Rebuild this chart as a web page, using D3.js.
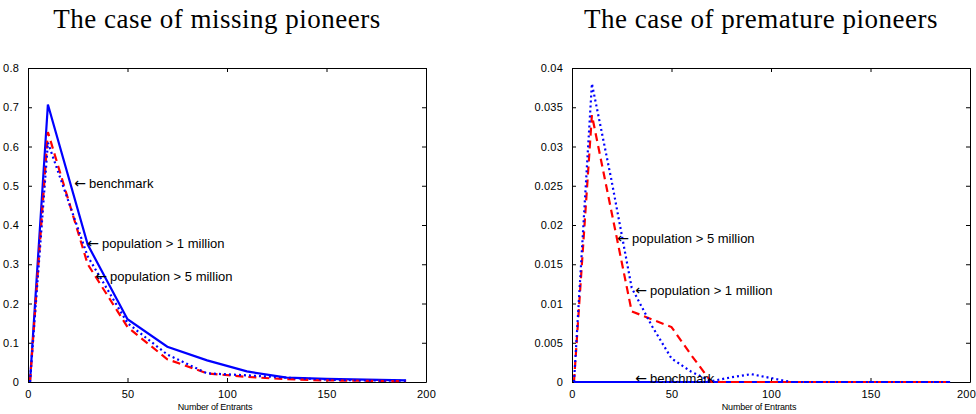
<!DOCTYPE html>
<html>
<head>
<meta charset="utf-8">
<title>Missing and premature pioneers</title>
<script src="https://d3js.org/d3.v7.min.js"></script>
<style>
  body { margin: 0; background: #fff; }
  .tick-label { font: 11px "Liberation Sans", Arial, sans-serif; fill: #000; letter-spacing: 0.2px; }
  .note { font: 13px "Liberation Sans", Arial, sans-serif; fill: #000; }
  .arrow { font: 14px "DejaVu Sans", sans-serif; }
  .xlabel { font: 9px "Liberation Sans", Arial, sans-serif; fill: #000; letter-spacing: -0.2px; }
  .title { font: 27px "Liberation Serif", "DejaVu Serif", serif; fill: #000; letter-spacing: 0.5px; }
</style>
</head>
<body>
<div id="chart"></div>
<script>
// ---- data ----
// left panel: the case of missing pioneers
var leftX         = [1, 10, 30, 50, 70, 90, 110, 130, 150, 170, 190];
var leftBenchmark = [0, 0.707, 0.35, 0.16, 0.09, 0.055, 0.027, 0.011, 0.008, 0.006, 0.004];
var leftPop1m     = [0, 0.61, 0.32, 0.15, 0.07, 0.022, 0.017, 0.011, 0.006, 0.004, 0.003];
var leftPop5m     = [0, 0.637, 0.30, 0.14, 0.058, 0.022, 0.013, 0.007, 0.004, 0.003, 0.002];
var leftYTicks    = [0, 0.1, 0.2, 0.3, 0.4, 0.5, 0.6, 0.7, 0.8];

// right panel: the case of premature pioneers
var rightX         = [1, 10, 20, 30, 40, 50, 60, 70, 80, 90, 100, 110, 120, 130, 140, 150, 160, 170, 180, 190];
var rightBenchmark = [0, 0, 0, 0, 0, 0, 0, 0, 0, 0, 0, 0, 0, 0, 0, 0, 0, 0, 0, 0];
var rightPop1m     = [0, 0.038, 0.0255, 0.012, 0.0072, 0.003, 0.0013, 0.0001, 0.0006, 0.001, 0.0005, 0, 0, 0, 0, 0, 0, 0, 0, 0];
var rightPop5m     = [0, 0.034, 0.0215, 0.009, 0.008, 0.007, 0.0034, 0, 0, 0, 0, 0, 0, 0, 0, 0, 0, 0, 0, 0];
var rightYTicks    = [0, 0.005, 0.01, 0.015, 0.02, 0.025, 0.03, 0.035, 0.04];

var xTicks = [0, 50, 100, 150, 200];

var panels = [
  {
    title: "The case of missing pioneers",
    left: 28, yMax: 0.8, yTicks: leftYTicks, x: leftX,
    benchmark: leftBenchmark, pop1m: leftPop1m, pop5m: leftPop5m,
    notes: [
      {text: "benchmark", x: 23.3, y: 0.505},
      {text: "population > 1 million", x: 29.8, y: 0.352},
      {text: "population > 5 million", x: 33.8, y: 0.27}
    ]
  },
  {
    title: "The case of premature pioneers",
    left: 572, yMax: 0.04, yTicks: rightYTicks, x: rightX,
    benchmark: rightBenchmark, pop1m: rightPop1m, pop5m: rightPop5m,
    notes: [
      {text: "population > 5 million", x: 22.8, y: 0.0183},
      {text: "population > 1 million", x: 31.8, y: 0.0116},
      {text: "benchmark", x: 31.8, y: 0.0005}
    ]
  }
];

var W = 976, H = 414;
var plotW = 398, plotTop = 68, plotBottom = 382, tickLen = 4;

var svg = d3.select("#chart").append("svg")
    .attr("width", W)
    .attr("height", H);

panels.forEach(function(p, pi) {
  var xScale = d3.scaleLinear().domain([0, 200]).range([p.left, p.left + plotW]);
  var yScale = d3.scaleLinear().domain([0, p.yMax]).range([plotBottom, plotTop]);
  var g = svg.append("g");

  // title
  g.append("text")
    .attr("class", "title")
    .attr("x", p.left + plotW / 2 - 10)
    .attr("y", 28)
    .attr("text-anchor", "middle")
    .text(p.title);

  // axes, matlab style: ticks inside, on all four sides
  var fmt = function(d) { return d3.format("~g")(d); };

  var bottomAxis = d3.axisBottom(xScale).tickValues(xTicks).tickSizeInner(-tickLen).tickSizeOuter(0).tickPadding(8);
  var bx = g.append("g").attr("transform", "translate(0," + plotBottom + ")").call(bottomAxis);
  // keep the last label of the right panel inside the window
  if (pi === 1) {
    bx.selectAll(".tick text").filter(function(d) { return d === 200; }).attr("dx", -4);
  }

  var topAxis = d3.axisTop(xScale).tickValues(xTicks).tickSizeInner(-tickLen).tickSizeOuter(0).tickFormat("");
  g.append("g").attr("transform", "translate(0," + plotTop + ")").call(topAxis);

  var leftAxis = d3.axisLeft(yScale).tickValues(p.yTicks).tickSizeInner(-tickLen).tickSizeOuter(0).tickPadding(9).tickFormat(fmt);
  g.append("g").attr("transform", "translate(" + p.left + ",0)").call(leftAxis);

  var rightAxis = d3.axisRight(yScale).tickValues(p.yTicks).tickSizeInner(-tickLen).tickSizeOuter(0).tickFormat("");
  g.append("g").attr("transform", "translate(" + (p.left + plotW) + ",0)").call(rightAxis);

  g.selectAll(".domain").attr("stroke", "#000").attr("stroke-width", 1);
  g.selectAll(".tick line").attr("stroke", "#000");
  g.selectAll(".tick text").attr("class", "tick-label").attr("font-size", null).attr("font-family", null);

  // x label (sits a bit left of centre, as in the source)
  g.append("text")
    .attr("class", "xlabel")
    .attr("x", p.left + plotW / 2 - 12)
    .attr("y", 410)
    .attr("text-anchor", "middle")
    .text("Number of Entrants");

  // lines
  var line = d3.line()
    .x(function(d) { return xScale(d[0]); })
    .y(function(d) { return yScale(d[1]); });

  var zip = function(ys) { return p.x.map(function(x, i) { return [x, ys[i]]; }); };

  g.append("path")
    .datum(zip(p.benchmark))
    .attr("d", line)
    .attr("fill", "none")
    .attr("stroke", "#0000ff")
    .attr("stroke-width", 2.2);

  g.append("path")
    .datum(zip(p.pop5m))
    .attr("d", line)
    .attr("fill", "none")
    .attr("stroke", "#ff0000")
    .attr("stroke-width", 2.2)
    .attr("stroke-dasharray", "8,5");

  g.append("path")
    .datum(zip(p.pop1m))
    .attr("d", line)
    .attr("fill", "none")
    .attr("stroke", "#0000ff")
    .attr("stroke-width", 2.2)
    .attr("stroke-dasharray", "2,3");

  // annotations with a left arrow
  var notes = g.selectAll("text.note")
    .data(p.notes)
    .enter()
    .append("text")
    .attr("class", "note")
    .attr("x", function(d) { return xScale(d.x); })
    .attr("y", function(d) { return yScale(d.y); })
    .attr("dy", "0.35em");
  notes.append("tspan").attr("class", "arrow").text("\u2190");
  notes.append("tspan").attr("dx", 3).text(function(d) { return d.text; });
});
</script>
</body>
</html>
